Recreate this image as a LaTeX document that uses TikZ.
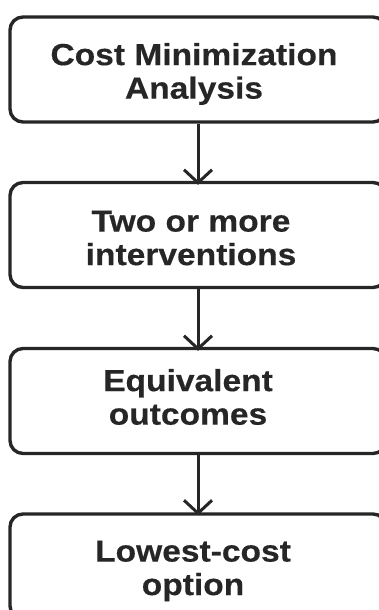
\documentclass[tikz,border=0pt]{standalone}
\usepackage{fontspec}
\setmainfont{Liberation Sans}[FakeStretch=1.1, BoldFeatures={FakeBold=0.4}]
\usetikzlibrary{arrows.meta}
\tikzset{
  stepbox/.style={draw=black!85, line width=3.4pt, rounded corners=13pt,
    minimum width=376pt, minimum height=105pt, inner sep=0pt},
  steptext/.style={align=center, text=black!85, inner sep=0pt,
    font=\bfseries\fontsize{30.5}{33.5}\selectfont},
  flow/.style={draw=black!85, line width=3pt, line cap=butt,
    -{Straight Barb[length=13pt, width=28pt, line width=3pt]}}
}
\begin{document}
\begin{tikzpicture}[x=1pt, y=-1pt]
\useasboundingbox (0,0) rectangle (379,610);
\node[stepbox] (b1) at (198,69.5) {};
\node[stepbox] (b2) at (198,235) {};
\node[stepbox] (b3) at (198,401) {};
\node[stepbox] (b4) at (198,566.5) {};
\node[steptext] (t1) at ([xshift=-4pt,yshift=-4.5pt]b1.center) {Cost Minimization\\Analysis};
\node[steptext] (t2) at ([xshift=-7pt,yshift=-3pt]b2.center) {Two or more\\interventions};
\node[steptext] (t3) at ([xshift=-10pt,yshift=4pt]b3.center) {Equivalent\\outcomes};
\node[steptext] (t4) at ([xshift=-5pt,yshift=-4.5pt]b4.center) {Lowest-cost\\option};
\draw[flow] (b1.south) -- ([yshift=-4pt]b2.north);
\draw[flow] (b2.south) -- ([yshift=-4pt]b3.north);
\draw[flow] (b3.south) -- ([yshift=-3pt]b4.north);
\end{tikzpicture}
\end{document}
